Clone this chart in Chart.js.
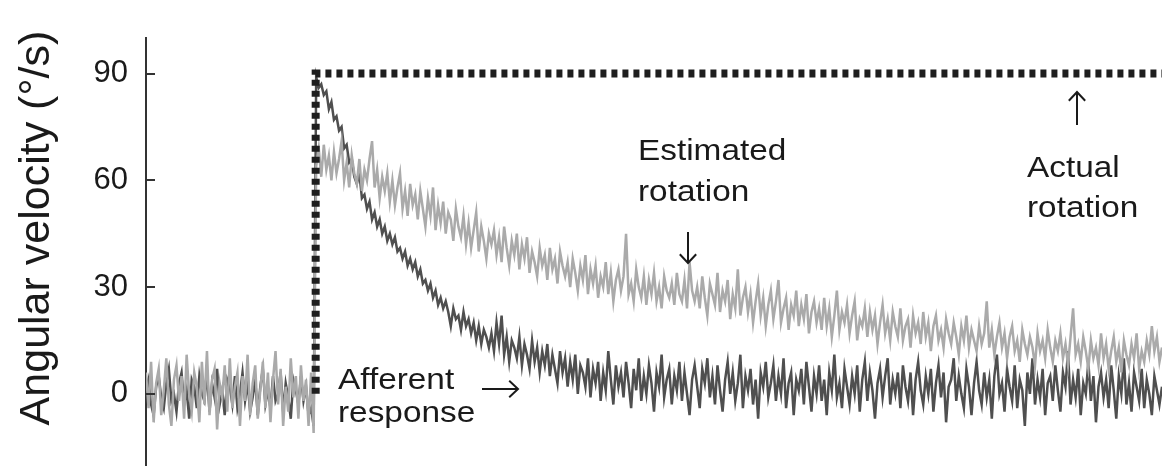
<!DOCTYPE html>
<html>
<head>
<meta charset="utf-8">
<script src="https://cdn.jsdelivr.net/npm/chart.js@4.4.1/dist/chart.umd.min.js"></script>
<style>
  html, body { margin: 0; padding: 0; background: #fff; }
  #wrap { width: 1162px; height: 467px; }
</style>
</head>
<body>
<div id="wrap"><canvas id="grafico" width="1162" height="467"></canvas></div>
<script>
// afferent response (dark trace), one sample every 0.25 time units, 0..100
const afferent = [
  1, 4, -3, -6, 2, 5, -1, -4, 3, 7,
  -2, 0, -5, 3, 6, -3, 1, -7, 4, 2,
  -4, 5, 0, -2, 6, -5, 3, -1, 7, -3,
  1, -6, 4, 2, -3, 5, -4, 0, 6, -2,
  3, -5, -1, 4, -6, 2, 7, -3, 1, -4,
  5, -2, 0, 6, -5, 3, -1, -7, 4, 1,
  -3, 5, -2, 2, -6, -4, -9,
  89, 86, 87, 84, 85, 80, 82, 77, 78, 74,
  75, 69, 70, 65, 66, 61, 59, 62, 55, 56,
  52, 54, 49, 51, 47, 49, 45, 47, 43, 45,
  42, 44, 40, 41, 38, 40, 36, 38, 35, 37,
  33, 35, 31, 32, 29, 31, 27, 29, 25, 27,
  24, 26, 23, 19, 24, 21, 22, 18, 23, 19,
  21, 17, 20, 15, 19, 14, 18, 16, 13, 17,
  12, 20, 14, 22, 11, 16, 9, 15, 13, 10,
  16, 8, 14, 11, 7, 15, 9, 13, 6, 12,
  8, 14, 5, 11, 7, 3, 12, 6, 10, 2,
  9, 4, 11, 0, 8, 6, 2, 10, -1, 7,
  3, 9, -2, 6, 1, 12, 4, -3, 8, 2,
  6, -1, 9, 3, -4, 7, 1, 10, -2, 5,
  0, 8, 3, -5, 6, 2, 11, -1, 4, 7,
  -3, 5, 1, 9, -2, 6, 0, -6, 4, 8,
  2, -4, 7, 3, 10, -1, 5, -3, 8, 1,
  -5, 4, 9, 0, 6, -2, 3, 11, -4, 5,
  1, 7, -3, 4, -7, 6, 2, 9, -1, 3,
  8, -2, 5, 0, 10, -4, 3, 6, -6, 4,
  1, 7, -3, 9, 2, -5, 5, 0, 8, -2,
  4, -6, 6, 1, 11, -1, 3, -4, 7, 2,
  -3, 5, 0, 8, -5, 4, 9, -2, 6, 1,
  -7, 3, 7, -1, 5, 10, -3, 4, 0, 6,
  -4, 8, 2, -2, 6, -6, 4, 9, 1, -3,
  5, 0, 7, -5, 3, 8, -1, 6, -8, 2,
  4, 10, -2, 5, 0, -4, 7, 2, -6, 3,
  9, 1, -3, 6, -1, 4, -7, 5, 11, 0,
  3, -5, 7, 2, -2, 8, -4, 4, 1, -9,
  6, 0, 10, -3, 4, -1, 7, -6, 3, 5,
  -2, 8, 1, -5, 6, 2, 12, -3, 4, -1,
  7, -6, 3, 0, 9, -2, 5, -8, 2, 6,
  -1, 4, -4, 8, 1, -7, 5, 0, 10, -3,
  3, -5, 6, 2, -2, 7, -4, 4, 0, -6,
  5, 1, -3, 2
];

// estimated rotation (light trace), same sampling
const estimada = [
  6, -4, 9, -8, 3, 7, -6, 1, 10, -3,
  -9, 4, 8, -2, 5, -7, 11, 0, -5, 6,
  2, -8, 9, -3, 12, -6, 4, 7, -10, 3,
  -1, 8, -5, 10, -4, 2, 6, -9, 5, -2,
  11, -6, 3, 8, -7, 1, 9, -4, 6, -8,
  4, 12, -3, 7, -9, 2, -5, 10, -1, 5,
  -7, 8, -2, 4, -9, 6, -11,
  64, 69, 61, 70, 63, 67, 60, 68, 62, 66,
  71, 60, 65, 58, 67, 62, 59, 66, 57, 63,
  60, 66, 71, 58, 63, 55, 61, 57, 62, 54,
  60, 53, 58, 62, 52, 57, 50, 59, 53, 56,
  49, 57, 52, 47, 55, 50, 58, 46, 53, 48,
  54, 45, 51, 49, 43, 52, 47, 44, 50, 42,
  48, 41, 46, 51, 40, 47, 43, 38, 45, 42,
  46, 39, 44, 37, 47, 41, 36, 43, 39, 45,
  35, 42, 38, 44, 34, 40, 37, 33, 41, 36,
  39, 32, 41, 35, 38, 31, 40, 36, 33, 37,
  30, 38, 34, 29, 36, 32, 39, 28, 35, 31,
  36, 27, 33, 30, 37, 28, 34, 26, 32, 35,
  29, 33, 45, 28, 31, 26, 35, 30, 27, 33,
  25, 32, 28, 34, 26, 30, 24, 33, 29, 27,
  31, 25, 34, 28, 26, 32, 24, 37, 29, 26,
  30, 24, 33, 27, 22, 31, 28, 25, 34, 23,
  29, 26, 32, 21, 28, 24, 35, 22, 27, 30,
  23, 28, 20, 26, 31, 22, 27, 19, 25, 29,
  21, 26, 32, 20, 24, 27, 18, 25, 22, 29,
  19, 25, 21, 28, 17, 23, 26, 20, 24, 18,
  27, 19, 24, 16, 22, 29, 18, 23, 20, 25,
  17, 22, 26, 15, 21, 19, 24, 16, 23, 18,
  22, 14, 20, 25, 17, 21, 15, 23, 19, 16,
  24, 15, 19, 21, 13, 22, 17, 20, 14, 23,
  16, 20, 12, 19, 22, 15, 18, 13, 21, 17,
  14, 20, 16, 11, 19, 15, 22, 13, 18, 15,
  12, 19, 14, 17, 26, 13, 18, 11, 16, 20,
  13, 17, 10, 16, 19, 12, 15, 9, 18, 14,
  11, 16, 13, 8, 17, 12, 15, 10, 18, 13,
  9, 15, 12, 17, 10, 14, 8, 16, 24, 11,
  14, 9, 16, 12, 7, 15, 10, 13, 8, 17,
  10, 14, 7, 12, 16, 9, 13, 6, 15, 11,
  8, 14, 10, 17, 7, 12, 9, 15, 11, 19,
  12, 16, 9, 13
];

// actual rotation: step from 0 to 90 deg/s
const realTempo = [16.7, 16.7, 100];
const realValor = [0, 90, 90];

const tempo = afferent.map((_, i) => i * 0.25);
const marcasY = [0, 30, 60, 90];

function pontos(xs, ys) {
  return xs.map((x, i) => ({ x: x, y: ys[i] }));
}

const fonte = '"Liberation Sans", Arial, sans-serif';

// y axis tick marks point into the plot, plus the rotated axis title
const eixoExtra = {
  id: 'eixoExtra',
  afterDraw(chart) {
    const ctx = chart.ctx;
    const y = chart.scales.y;
    const left = chart.chartArea.left;
    ctx.save();
    ctx.strokeStyle = '#333';
    ctx.lineWidth = 2;
    marcasY.forEach(v => {
      const py = Math.round(y.getPixelForValue(v));
      ctx.beginPath();
      ctx.moveTo(left, py);
      ctx.lineTo(left + 9, py);
      ctx.stroke();
    });
    ctx.fillStyle = '#1a1a1a';
    ctx.font = '43px ' + fonte;
    ctx.textAlign = 'center';
    ctx.textBaseline = 'middle';
    ctx.translate(37, 228);
    ctx.rotate(-Math.PI / 2);
    ctx.fillText('Angular velocity (°/s)', 0, 0);
    ctx.restore();
  }
};

// text labels and arrows
const notas = [
  { texto: 'Estimated', x: 638, y: 160 },
  { texto: 'rotation', x: 638, y: 201 },
  { texto: 'Actual', x: 1027, y: 177 },
  { texto: 'rotation', x: 1027, y: 217 },
  { texto: 'Afferent', x: 338, y: 389 },
  { texto: 'response', x: 338, y: 422 }
];
const setas = [
  { x1: 688, y1: 232, x2: 688, y2: 263 },
  { x1: 1077, y1: 125, x2: 1077, y2: 92 },
  { x1: 482, y1: 389, x2: 518, y2: 389 }
];

const anotacoes = {
  id: 'anotacoes',
  afterDraw(chart) {
    const ctx = chart.ctx;
    ctx.save();
    ctx.fillStyle = '#1a1a1a';
    ctx.font = '29px ' + fonte;
    ctx.textBaseline = 'alphabetic';
    notas.forEach(n => {
      ctx.save();
      ctx.translate(n.x, n.y);
      ctx.scale(1.15, 1);
      ctx.fillText(n.texto, 0, 0);
      ctx.restore();
    });
    ctx.strokeStyle = '#1a1a1a';
    ctx.lineWidth = 2;
    setas.forEach(s => {
      const ang = Math.atan2(s.y2 - s.y1, s.x2 - s.x1);
      const h = 12;
      ctx.beginPath();
      ctx.moveTo(s.x1, s.y1);
      ctx.lineTo(s.x2, s.y2);
      ctx.moveTo(s.x2 - h * Math.cos(ang - 0.75), s.y2 - h * Math.sin(ang - 0.75));
      ctx.lineTo(s.x2, s.y2);
      ctx.lineTo(s.x2 - h * Math.cos(ang + 0.75), s.y2 - h * Math.sin(ang + 0.75));
      ctx.stroke();
    });
    ctx.restore();
  }
};

const ctxGrafico = document.getElementById('grafico').getContext('2d');
new Chart(ctxGrafico, {
  type: 'line',
  data: {
    datasets: [
      {
        label: 'Actual rotation',
        data: pontos(realTempo, realValor),
        borderColor: '#1e1e1e',
        borderWidth: 8,
        borderDash: [6, 5],
        borderCapStyle: 'butt',
        pointRadius: 0,
        fill: false,
        order: 0
      },
      {
        label: 'Estimated rotation',
        data: pontos(tempo, estimada),
        borderColor: '#aaaaaa',
        borderWidth: 2.5,
        pointRadius: 0,
        fill: false,
        order: 1
      },
      {
        label: 'Afferent response',
        data: pontos(tempo, afferent),
        borderColor: '#4f4f4f',
        borderWidth: 2.5,
        pointRadius: 0,
        fill: false,
        order: 2
      }
    ]
  },
  options: {
    responsive: false,
    animation: false,
    events: [],
    layout: { padding: { top: 38, right: 0, bottom: 2, left: 0 } },
    plugins: { legend: { display: false }, tooltip: { enabled: false } },
    scales: {
      x: { type: 'linear', min: 0, max: 100, display: false },
      y: {
        min: -20,
        max: 100,
        afterBuildTicks: axis => { axis.ticks = marcasY.map(v => ({ value: v })); },
        afterFit: axis => {
          axis.width = 146;
          axis.paddingTop = 0;
          axis.paddingBottom = 0;
        },
        grid: { display: true, drawOnChartArea: false, drawTicks: false },
        border: { display: true, color: '#333', width: 2 },
        ticks: {
          padding: 18,
          color: '#1a1a1a',
          font: { family: fonte, size: 31 }
        }
      }
    }
  },
  plugins: [eixoExtra, anotacoes]
});
</script>
</body>
</html>
